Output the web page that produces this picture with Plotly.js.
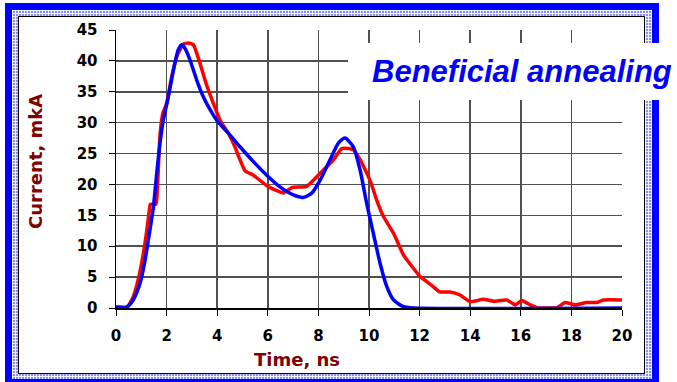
<!DOCTYPE html>
<html>
<head>
<meta charset="utf-8">
<script src="https://cdn.plot.ly/plotly-3.0.1.min.js"></script>
<style>
  html, body { margin: 0; padding: 0; background: #ffffff; }
  #stage { position: relative; width: 677px; height: 382px; overflow: hidden; }
  .frame-outer { position: absolute; left: 5px; top: 3px; width: 654px; height: 384px; background: #0000ff; }
  .frame-band {
    position: absolute; left: 12px; top: 10px; width: 640px; height: 369px;
    background-color: #8a90f2;
    background-image:
      linear-gradient(rgba(255,255,255,0.85) 1px, transparent 1px),
      linear-gradient(90deg, rgba(255,255,255,0.85) 1px, transparent 1px);
    background-size: 3px 3px;
  }
  .frame-inner { position: absolute; left: 18px; top: 16px; width: 625px; height: 356px;
    background: #ffffff; border: 1px solid #000000; }
  #chart { position: absolute; left: 0; top: 0; width: 677px; height: 382px; }
</style>
</head>
<body>
<div id="stage">
  <div class="frame-outer"></div>
  <div class="frame-band"></div>
  <div class="frame-inner"></div>
  <div id="chart"></div>
</div>
<script>
// Measured current pulse (red)
const measuredTime = [0, 0.45, 0.68, 0.9, 1.08, 1.2, 1.32, 1.36, 1.58, 1.63, 1.67, 1.74, 1.85, 2.0, 2.2, 2.4, 2.66, 2.86, 3.06, 3.32, 3.58, 3.85, 4.11, 4.44, 4.7, 4.9, 5.1, 5.43, 5.96, 6.35, 6.62, 6.95, 7.54, 8.07, 8.6, 8.92, 9.19, 9.38, 9.65, 10.04, 10.3, 10.57, 10.97, 11.36, 11.76, 12.02, 12.5, 12.8, 13.2, 13.6, 14.0, 14.52, 14.92, 15.45, 15.78, 16.04, 16.37, 16.63, 17.42, 17.75, 18.15, 18.6, 19.0, 19.27, 20];
const measuredCurrent = [0.2, 0.2, 1.8, 5.0, 8.8, 12.0, 15.9, 16.8, 16.8, 19.0, 22.3, 28.0, 31.5, 33.1, 37.4, 40.7, 42.7, 42.9, 42.6, 39.6, 36.1, 33.1, 30.4, 28.3, 26.1, 24.0, 22.2, 21.5, 19.8, 19.0, 18.6, 19.5, 19.7, 21.8, 24.0, 25.8, 25.8, 25.6, 24.0, 20.7, 17.5, 14.8, 12.1, 8.6, 6.4, 5.1, 3.6, 2.6, 2.6, 2.1, 1.0, 1.4, 1.1, 1.3, 0.5, 1.2, 0.5, 0.05, 0.05, 0.9, 0.5, 0.9, 0.9, 1.3, 1.3];

// Simulated current pulse (blue)
const simTime = [0, 0.42, 0.68, 0.95, 1.15, 1.34, 1.48, 1.61, 1.74, 1.87, 2.07, 2.27, 2.46, 2.6, 2.73, 2.93, 3.19, 3.45, 3.72, 3.98, 4.44, 4.9, 5.43, 5.96, 6.48, 7.01, 7.41, 7.74, 8.07, 8.46, 8.79, 9.05, 9.38, 9.65, 9.91, 10.17, 10.44, 10.7, 10.97, 11.36, 11.76, 20];
const simCurrent = [0.1, 0.1, 1.3, 4.0, 7.8, 12.6, 16.4, 21.8, 26.7, 30.4, 34.2, 38.5, 41.8, 42.6, 42.0, 40.1, 36.9, 34.2, 32.1, 30.4, 28.3, 26.1, 23.7, 21.5, 19.6, 18.3, 17.9, 18.6, 20.7, 24.0, 26.7, 27.5, 26.1, 22.3, 16.9, 12.1, 7.2, 3.5, 1.3, 0.2, 0.0, 0.0];

const xTicks = [0, 2, 4, 6, 8, 10, 12, 14, 16, 18, 20];
const yTicks = [0, 5, 10, 15, 20, 25, 30, 35, 40, 45];

const tickFont = { family: 'DejaVu Sans, Arial, sans-serif', size: 15, color: '#000000', weight: 'bold' };
const titleFont = { family: 'DejaVu Sans, Arial, sans-serif', size: 18, color: '#800000', weight: 'bold' };

const traces = [
  { x: measuredTime, y: measuredCurrent, mode: 'lines', name: 'measured',
    line: { color: '#ff0000', width: 3.5, shape: 'spline', smoothing: 0.4 } },
  { x: simTime, y: simCurrent, mode: 'lines', name: 'simulated',
    line: { color: '#0000ff', width: 3.5, shape: 'spline', smoothing: 0.6 } }
];

const layout = {
  width: 677, height: 382,
  margin: { l: 116, r: 55, t: 30, b: 74 },
  paper_bgcolor: 'rgba(0,0,0,0)',
  plot_bgcolor: '#ffffff',
  showlegend: false,
  xaxis: {
    range: [0, 20], tickvals: xTicks, ticktext: xTicks.map(String),
    showgrid: true, gridcolor: '#505050', gridwidth: 1.5,
    showline: true, linecolor: '#000000', linewidth: 1.5,
    zeroline: false, ticks: 'outside', ticklen: 6, tickcolor: '#000000',
    ticklabelstandoff: 7, tickfont: tickFont, fixedrange: true
  },
  yaxis: {
    range: [0, 45], tickvals: yTicks, ticktext: yTicks.map(String),
    showgrid: true, gridcolor: '#505050', gridwidth: 1.5,
    showline: true, linecolor: '#000000', linewidth: 1.5,
    zeroline: false, ticks: 'outside', ticklen: 6, tickcolor: '#000000',
    ticklabelstandoff: 8, tickfont: tickFont, fixedrange: true
  },
  shapes: [
    // white panel behind the caption
    { type: 'rect', xref: 'paper', yref: 'paper', layer: 'above',
      x0: (348 - 116) / 506, x1: (680 - 116) / 506,
      y0: (308 - 100) / 278, y1: (308 - 43) / 278,
      fillcolor: '#ffffff', line: { width: 0 } }
  ],
  annotations: [
    { text: 'Beneficial annealing', xref: 'paper', yref: 'paper',
      x: (522 - 116) / 506, y: (308 - 72) / 278, xanchor: 'center', yanchor: 'middle',
      showarrow: false,
      font: { family: 'Liberation Sans, Arial, sans-serif', size: 31, color: '#0000ff', weight: 'bold', style: 'italic' } },
    { text: 'Time, ns', xref: 'paper', yref: 'paper',
      x: (296.5 - 116) / 506, y: -(359 - 308) / 278, xanchor: 'center', yanchor: 'middle',
      showarrow: false, font: titleFont },
    { text: 'Current, mkA', xref: 'paper', yref: 'paper', textangle: -90,
      x: -(116 - 35) / 506, y: (308 - 162) / 278, xanchor: 'center', yanchor: 'middle',
      showarrow: false, font: titleFont }
  ]
};

Plotly.newPlot('chart', traces, layout, { displayModeBar: false, staticPlot: true });
</script>
</body>
</html>
